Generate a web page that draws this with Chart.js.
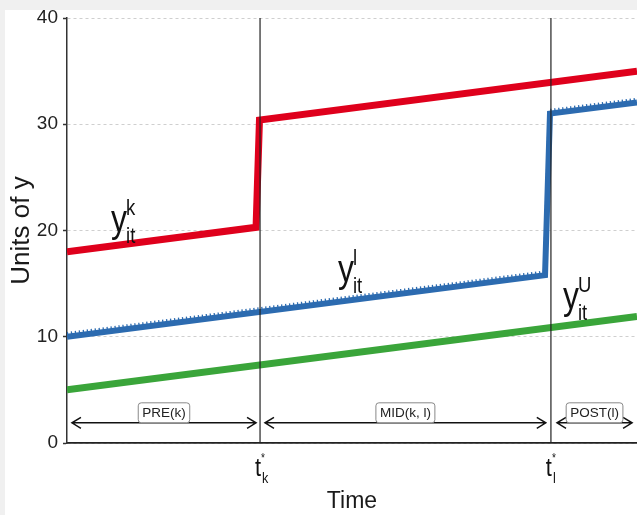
<!DOCTYPE html>
<html><head><meta charset="utf-8">
<script src="https://cdn.jsdelivr.net/npm/chart.js@4.4.1/dist/chart.umd.min.js"></script>
<style>
html,body{margin:0;padding:0;background:#f0f0f0;width:637px;height:515px;overflow:hidden}
#wrap{position:absolute;left:5px;top:10px;width:632px;height:505px;background:#fff}
canvas{display:block}
</style></head>
<body><div id="wrap"><canvas id="c" width="632" height="505"></canvas></div>
<script>
// ---- data ----
const xMin = 0, xMax = 30;
const tK = 10.16, tL = 25.47;
const redX = [0, 9.95, 10.13, 30];
const redY = [18.0, 20.3, 30.4, 35.0];
const blueX = [0, 25.16, 25.42, 30];
const blueY = [10.0, 15.8, 31.0, 32.05];
const greenX = [0, 30];
const greenY = [5.0, 11.9];
const yTicks = [0, 10, 20, 30, 40];
const periodLabels = ['PRE(k)', 'MID(k, l)', 'POST(l)'];
const periodFrom = [0.26, 10.42, 25.79];
const periodTo = [9.95, 25.2, 29.74];
const arrowY = 1.9;
const seriesSup = ['k', 'l', 'U'];
const seriesLabelX = [2.32, 14.26, 26.1];
const seriesLabelY = [19.9, 15.15, 12.6];
const markX = [tK, tL];
const markSub = ['k', 'l'];

const REG = '"Liberation Sans", Arial, sans-serif';
const RED = '#df001c', BLUE = '#2c6bb0', GREEN = '#3aa53a';
const SQ = 0.84; // horizontal squeeze of the reference lettering

const pts = (xs, ys) => xs.map((x, i) => ({x, y: ys[i]}));

const texturePlugin = {
  id: 'texture',
  beforeDatasetDraw(chart, args) {
    const ds = chart.data.datasets[args.index];
    if (ds.shiftUp) { chart.ctx.save(); chart.ctx.translate(0, -ds.shiftUp); }
  },
  afterDatasetDraw(chart, args) {
    const ds = chart.data.datasets[args.index];
    if (ds.shiftUp) chart.ctx.restore();
  }
};

function sqText(ctx, txt, x, y, font, align) {
  ctx.save();
  ctx.translate(x, y);
  ctx.scale(SQ, 1);
  ctx.font = font;
  ctx.textAlign = align || 'left';
  ctx.fillText(txt, 0, 0);
  ctx.restore();
}

const annot = {
  id: 'annot',
  afterDraw(chart) {
    const ctx = chart.ctx, xs = chart.scales.x, ys = chart.scales.y;
    const area = chart.chartArea;
    ctx.save();
    // period arrows
    const ay = ys.getPixelForValue(arrowY);
    ctx.strokeStyle = '#111'; ctx.lineWidth = 1.5; ctx.lineCap = 'butt';
    periodLabels.forEach((lab, i) => {
      const x1 = xs.getPixelForValue(periodFrom[i]);
      const x2 = xs.getPixelForValue(periodTo[i]);
      ctx.beginPath();
      ctx.moveTo(x1, ay); ctx.lineTo(x2, ay);
      ctx.moveTo(x1 + 9, ay - 5.5); ctx.lineTo(x1, ay); ctx.lineTo(x1 + 9, ay + 5.5);
      ctx.moveTo(x2 - 9, ay - 5.5); ctx.lineTo(x2, ay); ctx.lineTo(x2 - 9, ay + 5.5);
      ctx.stroke();
      ctx.font = '13.5px ' + REG;
      const w = ctx.measureText(lab).width + 8;
      const cx = (x1 + x2) / 2;
      const bx = cx - w / 2, by = ay - 20, bh = 20;
      ctx.beginPath();
      ctx.roundRect(bx, by, w, bh, 3);
      ctx.fillStyle = '#fff'; ctx.fill();
      ctx.strokeStyle = '#888'; ctx.lineWidth = 1; ctx.stroke();
      ctx.fillStyle = '#222'; ctx.textAlign = 'center'; ctx.textBaseline = 'middle';
      ctx.fillText(lab, cx, by + bh / 2 + 0.5);
      ctx.strokeStyle = '#111'; ctx.lineWidth = 1.5;
    });
    // series labels y_it^sup
    ctx.fillStyle = '#111'; ctx.textBaseline = 'alphabetic';
    seriesSup.forEach((s, i) => {
      const px = xs.getPixelForValue(seriesLabelX[i]);
      const py = ys.getPixelForValue(seriesLabelY[i]);
      sqText(ctx, 'y', px, py, '38px ' + REG);
      sqText(ctx, 'it', px + 15, py + 11, '22px ' + REG);
      sqText(ctx, s, px + 15, py - 17, '22px ' + REG);
    });
    // time marks t*_k, t*_l
    markX.forEach((mx, i) => {
      const px = xs.getPixelForValue(mx);
      sqText(ctx, 't', px + 1, area.bottom + 33, '26px ' + REG, 'right');
      sqText(ctx, '*', px + 1, area.bottom + 19, '12px ' + REG);
      sqText(ctx, markSub[i], px + 2, area.bottom + 40, '15px ' + REG);
    });
    ctx.restore();
  }
};

new Chart(document.getElementById('c'), {
  type: 'line',
  data: {
    datasets: [
      {data: pts([tK, tK], [0, 40]), borderColor: '#222', borderWidth: 1.2, order: 0},
      {data: pts([tL, tL], [0, 40]), borderColor: '#222', borderWidth: 1.2, order: 0},
      {data: pts(redX, redY), borderColor: RED, borderWidth: 7, order: 1},
      {data: pts(blueX, blueY), borderColor: BLUE, borderWidth: 6, order: 1},
      {data: pts(greenX, greenY), borderColor: GREEN, borderWidth: 7, order: 1},
      {data: pts(blueX, blueY), borderColor: BLUE, borderWidth: 4.5, borderDash: [1.3, 2.7], shiftUp: 2.5, order: 2}
    ]
  },
  options: {
    responsive: false,
    animation: false,
    events: [],
    layout: {padding: {top: 8, right: 0, left: 0, bottom: 0}},
    elements: {
      line: {tension: 0, fill: false, borderJoinStyle: 'miter', borderCapStyle: 'butt'},
      point: {radius: 0, hoverRadius: 0}
    },
    plugins: {legend: {display: false}, tooltip: {enabled: false}},
    scales: {
      x: {
        type: 'linear', min: xMin, max: xMax,
        grid: {display: false},
        border: {display: true, color: '#222', width: 1.8},
        ticks: {display: false},
        title: {display: true, text: 'Time', color: '#1a1a1a',
          font: {family: REG, size: 23, lineHeight: 1}, padding: {top: 0, bottom: 2}},
        afterFit(s) { s.height = 72; s.paddingLeft = 0; s.paddingRight = 0; }
      },
      y: {
        type: 'linear', min: 0, max: 40,
        afterBuildTicks(s) { s.ticks = yTicks.map(v => ({value: v})); },
        grid: {color: '#cfcfcf', lineWidth: 1, tickColor: '#333', tickLength: 4, tickWidth: 1.5},
        border: {display: true, color: '#333', width: 1.5, dash: [3, 3]},
        ticks: {color: '#222', padding: 5, font: {family: REG, size: 19}},
        title: {display: true, text: 'Units of y', color: '#1a1a1a',
          font: {family: REG, size: 26, lineHeight: 1}, padding: {top: 4, bottom: 0}},
        afterFit(s) { s.width = 62; s.paddingTop = 0; s.paddingBottom = 0; }
      }
    }
  },
  plugins: [texturePlugin, annot]
});
</script>
</body></html>
